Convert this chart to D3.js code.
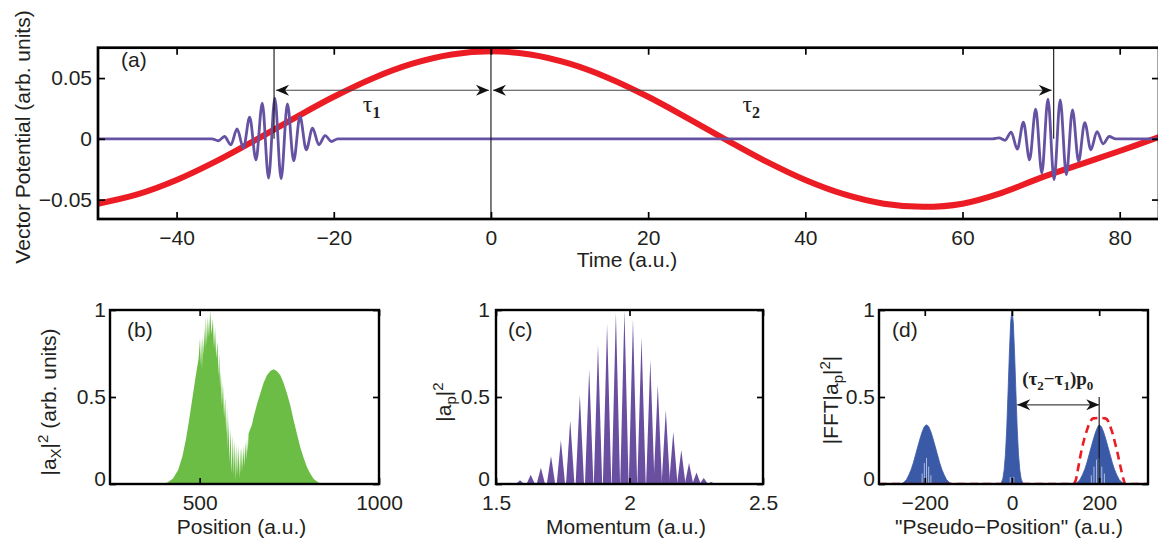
<!DOCTYPE html>
<html>
<head>
<meta charset="utf-8">
<title>Attosecond pulse pair figure</title>
<script src="https://cdn.jsdelivr.net/npm/d3@7/dist/d3.min.js"></script>
<style>
  html,body{margin:0;padding:0;background:#fff;}
  svg{display:block;}
</style>
</head>
<body>
<svg id="fig" width="1158" height="541"></svg>
<script>
// ================= DATA =================
// Panel (a): vector potential vs time
const timeTicks = [-40, -20, 0, 20, 40, 60, 80];
const potentialTicks = [-0.05, 0, 0.05];
const fieldTime  = [-50,-45,-40,-35,-30,-25,-20,-15,-10,-5,0,5,10,15,20,25,30,35,40,45,50,55,60,65,70,75,80,85];
const fieldValue = [-0.0534,-0.0458,-0.0339,-0.0186,-0.0011,0.0171,0.0346,0.0499,0.0618,0.0694,0.0720,0.0694,0.0618,0.0499,0.0346,0.0171,-0.0011,-0.0186,-0.0339,-0.0458,-0.0534,-0.0560,-0.0534,-0.0445,-0.0320,-0.0210,-0.0100,0.0015];
const pulse1Time  = [-50,-35.5,-34.7,-33.9,-33.1,-32.3,-31.5,-30.7,-29.9,-29.1,-28.3,-27.5,-26.7,-25.9,-25.1,-24.3,-23.5,-22.7,-21.9,-21.1,-20.3,-19.5];
const pulse1Value = [0,0,-0.0016,0.0019,-0.0049,0.0082,-0.0077,0.0178,-0.0173,0.0293,-0.0323,0.0334,-0.0329,0.0288,-0.0181,0.0184,-0.0090,0.0088,-0.0049,0.0027,-0.0022,0];
const pulse2Time  = [63.8,64.63,65.41,66.19,66.97,67.75,68.53,69.31,70.09,70.87,71.65,72.43,73.21,73.99,74.77,75.55,76.33,77.11,77.89,78.67,79.5,85];
const pulse2Value = [0,0.0008,-0.0012,0.0055,-0.0085,0.0137,-0.0173,0.0244,-0.0282,0.0326,-0.0337,0.0321,-0.0296,0.0238,-0.0186,0.0134,-0.0090,0.0060,-0.0041,0.0019,0,0];
const pulseCentres = [-27.6, 71.6];
const referenceTime = 0;
const delayArrowLevel = 0.04;
const tauLabelTime = [-16.3, 32.0];
const tauLabelLevel = 0.022;
const tauSubscripts = ["1", "2"];

// Panel (b): |a_x|^2 vs position
const positionTicks = [500, 1000];
const unitTicks = [0, 0.5, 1];
const positionB = [250,395,410,425,440,452,462,470,478,486,492,497,501,503,504.2,506.5,508.8,511,513,515,517.2,520,522.8,526,529.3,533,536.8,540,543,546,549.8,552,554.5,557,559.1,562,565,568,571.2,574,576.5,578.5,580.5,583,586,589,592.6,595,598,601,603.8,606,608.5,611,613.1,615,617.5,620,622,624.5,627,629.9,632,634,636.4,640,645.7,650.4,660,669,678,687.6,697,706.2,715,724.9,734,743.5,753,762.1,771,780.7,790,799.3,809,818,830,841,1000];
const densityB  = [0,0,0.008,0.03,0.08,0.16,0.26,0.36,0.47,0.58,0.66,0.72,0.84,0.68,0.83,0.66,0.85,0.74,0.90,0.78,0.96,0.80,0.96,0.84,1.0,0.86,0.95,0.78,0.90,0.72,0.82,0.62,0.75,0.55,0.65,0.45,0.58,0.38,0.50,0.28,0.44,0.20,0.375,0.12,0.32,0.06,0.28,0.05,0.25,0.02,0.23,0.05,0.22,0.03,0.21,0.06,0.21,0.08,0.22,0.10,0.24,0.14,0.26,0.18,0.29,0.31,0.34,0.385,0.46,0.52,0.58,0.625,0.65,0.66,0.65,0.625,0.58,0.52,0.45,0.365,0.29,0.21,0.15,0.096,0.058,0.029,0.01,0,0];

// Panel (c): |a_p|^2 vs momentum (comb peaks)
const momentumTicks = [1.5, 2, 2.5];
const momentumPeaks = [1.512,1.550,1.590,1.630,1.668,1.706,1.743,1.778,1.814,1.849,1.882,1.916,1.949,1.981,2.013,2.045,2.078,2.106,2.136,2.164,2.194,2.223,2.251,2.278,2.306,2.334,2.362];
const peakHeights   = [0.003,0.007,0.022,0.053,0.093,0.161,0.252,0.366,0.511,0.660,0.800,0.920,0.985,0.998,0.947,0.844,0.714,0.570,0.426,0.300,0.195,0.120,0.066,0.034,0.012,0.003,0.001];

// Panel (d): |FFT|a_p|^2| vs pseudo-position
const pseudoTicks = [-200, 0, 200];
const pseudoPos = [-305,-254,-248,-242,-236,-231,-226,-221,-216,-211,-206,-201,-196,-191,-186,-181,-176,-171,-166,-161,-156,-150,-144,-138,
                   -28,-24,-21,-18,-15,-12,-9,-6,-3,0,3,6,9,12,15,18,21,24,28,
                   144,150,156,162,167,172,177,182,187,192,197,200,205,210,215,220,225,230,235,240,246,252,258,312];
const fftValue  = [0,0,0.01,0.025,0.055,0.085,0.124,0.17,0.215,0.26,0.30,0.33,0.34,0.33,0.30,0.26,0.215,0.17,0.124,0.085,0.055,0.025,0.01,0,
                   0,0.01,0.03,0.08,0.17,0.32,0.53,0.75,0.93,1.0,0.93,0.75,0.53,0.32,0.17,0.08,0.03,0.01,0,
                   0,0.01,0.025,0.055,0.085,0.124,0.17,0.215,0.26,0.30,0.33,0.34,0.33,0.30,0.26,0.215,0.17,0.124,0.085,0.055,0.025,0.01,0,0];
const fringeGapPos = [-206,-201,-196,-191,-186,-4,4,182,188,194,200,206,212];
const fringeGapTop = [0.06,0.12,0.15,0.10,0.05,0.04,0.04,0.05,0.10,0.14,0.15,0.10,0.06];
const windowPos   = [-305,140,146,151,156,161,166,172,178,186,200,214,221,227,232,237,242,247,252,256,260,312];
const windowValue = [0,0,0.02,0.08,0.15,0.21,0.26,0.31,0.35,0.377,0.38,0.377,0.36,0.32,0.28,0.23,0.18,0.12,0.065,0.025,0,0];
const shiftArrowFrom = 12, shiftArrowTo = 200, shiftArrowLevel = 0.455;
const markerLineTop = 0.5;
const shiftLabelPos = 105, shiftLabelLevel = 0.57;

// ================= STYLE =================
const INK = '#231f20';
const SANS = '"Liberation Sans", Arial, Helvetica, sans-serif';
const SERIF = '"Liberation Serif", "Times New Roman", Times, serif';
const RED = '#ec1c24', PURPLE_A = '#6652a2', GREEN = '#6cbd45', PURPLE_C = '#6a4fa1', BLUE = '#3a59a7';
const FS = 21;
const BOTTOM_TITLE_Y = 534;

const svg = d3.select('#fig').attr('font-family', SANS);
const defs = svg.append('defs');
defs.append('marker').attr('id','head')
  .attr('viewBox','-14 -7 15 14').attr('refX',0).attr('refY',0)
  .attr('markerWidth',15).attr('markerHeight',14).attr('markerUnits','userSpaceOnUse')
  .attr('orient','auto-start-reverse')
  .append('path').attr('d','M0,0 L-13,-5.5 L-9,0 L-13,5.5 Z').attr('fill','#111');

let clipId = 0;
function clipFor(x, y) {
  const id = 'clip' + (clipId++);
  const [xa, xb] = x.range(), [yb, ya] = y.range();
  defs.append('clipPath').attr('id', id).append('rect')
    .attr('x', xa).attr('y', ya).attr('width', xb - xa).attr('height', yb - ya);
  return `url(#${id})`;
}

const fmt = d => String(d).replace('-', '\u2212');
function framed(g, x, y, xt, yt, o) {
  const [xa, xb] = x.range(), [yb, ya] = y.range();
  const t = o.tick;
  const axes = [
    g.append('g').attr('transform', `translate(0,${yb})`).call(d3.axisBottom(x).tickValues(xt).tickSize(-t).tickPadding(o.xpad).tickFormat(fmt)),
    g.append('g').attr('transform', `translate(0,${ya})`).call(d3.axisTop(x).tickValues(xt).tickSize(-t).tickFormat('')),
    g.append('g').attr('class', 'yleft').attr('transform', `translate(${xa},0)`).call(d3.axisLeft(y).tickValues(yt).tickSize(-t).tickPadding(o.ypad).tickFormat(fmt)),
    g.append('g').attr('transform', `translate(${xb},0)`).call(d3.axisRight(y).tickValues(yt).tickSize(-t).tickFormat(''))
  ];
  axes.forEach(a => {
    a.select('.domain').remove();
    a.attr('font-family', SANS).attr('font-size', FS);
    a.selectAll('line').attr('stroke', '#000').attr('stroke-width', 1.7);
    a.selectAll('text').attr('fill', INK);
  });
  if (o.zeroLift) {
    axes[2].selectAll('.tick').filter(d => d === 0).select('text').attr('y', -o.zeroLift);
  }
  g.append('rect').attr('x', xa).attr('y', ya).attr('width', xb - xa).attr('height', yb - ya)
    .attr('fill', 'none').attr('stroke', '#000').attr('stroke-width', o.frame);
}

function panelLabel(g, text, x, y) {
  g.append('text').attr('x', x).attr('y', y).attr('font-size', FS).attr('fill', INK).text(text);
}

// ================= PANEL (a) =================
const xA = d3.scaleLinear([-50, 85], [98, 1159]);
const yA = d3.scaleLinear([-0.066, 0.075], [219, 47.7]);
const gA = svg.append('g');
const cA = clipFor(xA, yA);

gA.append('path').datum(d3.zip(fieldTime, fieldValue))
  .attr('d', d3.line().x(d => xA(d[0])).y(d => yA(d[1])).curve(d3.curveCatmullRom)).attr('fill', 'none')
  .attr('stroke', RED).attr('stroke-width', 6).attr('clip-path', cA);

gA.append('path').datum(d3.zip(pulse1Time, pulse1Value).concat(d3.zip(pulse2Time, pulse2Value)))
  .attr('d', d3.line().x(d => xA(d[0])).y(d => yA(d[1])).curve(d3.curveMonotoneX))
  .attr('fill', 'none').attr('stroke', PURPLE_A).attr('stroke-width', 2.8)
  .attr('stroke-linejoin', 'round').attr('clip-path', cA);

// vertical markers
gA.selectAll('line.pulse').data(pulseCentres).join('line')
  .attr('x1', d => xA(d)).attr('x2', d => xA(d))
  .attr('y1', yA(0)).attr('y2', yA.range()[1])
  .attr('stroke', '#111').attr('stroke-width', 1.1);
gA.append('line').attr('x1', xA(referenceTime)).attr('x2', xA(referenceTime))
  .attr('y1', yA.range()[0]).attr('y2', yA.range()[1]).attr('stroke', '#111').attr('stroke-width', 1.1);

// delay arrows
[[pulseCentres[0], referenceTime], [referenceTime, pulseCentres[1]]].forEach(([a, b]) => {
  gA.append('line')
    .attr('x1', xA(a) + 2).attr('x2', xA(b) - 2)
    .attr('y1', yA(delayArrowLevel)).attr('y2', yA(delayArrowLevel))
    .attr('stroke', '#444').attr('stroke-width', 1.1)
    .attr('marker-start', 'url(#head)').attr('marker-end', 'url(#head)');
});

// tau labels
tauLabelTime.forEach((t, i) => {
  const txt = gA.append('text').attr('x', xA(t)).attr('y', yA(tauLabelLevel))
    .attr('font-family', SERIF).attr('fill', INK);
  txt.append('tspan').attr('font-size', 24).text('\u03C4');
  txt.append('tspan').attr('font-size', 16).attr('font-weight', 'bold').attr('dy', 6).text(tauSubscripts[i]);
});

framed(gA, xA, yA, timeTicks, potentialTicks, {tick: 7, xpad: 11, ypad: 6, frame: 2.7});
panelLabel(gA, '(a)', 121, 67);
gA.append('text').attr('x', 627).attr('y', 267).attr('text-anchor', 'middle')
  .attr('font-size', FS).attr('fill', INK).text('Time (a.u.)');
gA.append('text').attr('transform', 'translate(30,137) rotate(-90)').attr('text-anchor', 'middle')
  .attr('font-size', FS).attr('fill', INK).text('Vector Potential (arb. units)');

// ================= PANEL (b) =================
const xB = d3.scaleLinear([250, 1000], [110, 379]);
const yB = d3.scaleLinear([0, 1], [484, 310]);
const gB = svg.append('g');
const cB = clipFor(xB, yB);
gB.append('path').datum(d3.zip(positionB, densityB))
  .attr('d', d3.area().x(d => xB(d[0])).y0(yB(0)).y1(d => yB(d[1])))
  .attr('fill', GREEN).attr('clip-path', cB);
gB.append('line').attr('x1', xB.range()[0]).attr('x2', xB.range()[1]).attr('y1', yB(0)).attr('y2', yB(0))
  .attr('stroke', GREEN).attr('stroke-width', 1.5);
framed(gB, xB, yB, positionTicks, unitTicks, {tick: 6, xpad: 11, ypad: 4, frame: 2.4, zeroLift: 5});
panelLabel(gB, '(b)', 127, 337);
gB.append('text').attr('x', 241.5).attr('y', BOTTOM_TITLE_Y).attr('text-anchor', 'middle')
  .attr('font-size', FS).attr('fill', INK).text('Position (a.u.)');
{
  const t = gB.append('text').attr('transform', 'translate(56,402) rotate(-90)').attr('text-anchor', 'middle')
    .attr('font-size', FS).attr('fill', INK);
  t.append('tspan').text('|a');
  t.append('tspan').attr('font-size', 15).attr('dy', 5).text('X');
  t.append('tspan').attr('dy', -5).text('|');
  t.append('tspan').attr('font-size', 15).attr('dy', -8).text('2');
  t.append('tspan').attr('dy', 8).text(' (arb. units)');
}

// ================= PANEL (c) =================
const xC = d3.scaleLinear([1.5, 2.5], [496, 763]);
const yC = d3.scaleLinear([0, 1], [484, 310]);
const gC = svg.append('g');
const cC = clipFor(xC, yC);
const halfW = 4.2;
gC.selectAll('path.spike').data(d3.zip(momentumPeaks, peakHeights)).join('path')
  .attr('d', d => d3.area().x(p => p[0]).y0(yC(0)).y1(p => p[1])([
      [xC(d[0]) - halfW, yC(0)], [xC(d[0]), yC(d[1])], [xC(d[0]) + halfW, yC(0)]]))
  .attr('fill', PURPLE_C).attr('clip-path', cC);
gC.append('line').attr('x1', xC.range()[0]).attr('x2', xC.range()[1]).attr('y1', yC(0)).attr('y2', yC(0))
  .attr('stroke', PURPLE_C).attr('stroke-width', 1.2);
framed(gC, xC, yC, momentumTicks, unitTicks, {tick: 6, xpad: 11, ypad: 6, frame: 2.4, zeroLift: 5});
panelLabel(gC, '(c)', 508, 337);
gC.append('text').attr('x', 626).attr('y', BOTTOM_TITLE_Y).attr('text-anchor', 'middle')
  .attr('font-size', FS).attr('fill', INK).text('Momentum (a.u.)');
{
  const t = gC.append('text').attr('transform', 'translate(451,402) rotate(-90)').attr('text-anchor', 'middle')
    .attr('font-size', FS).attr('fill', INK);
  t.append('tspan').text('|a');
  t.append('tspan').attr('font-size', 15).attr('dy', 5).text('p');
  t.append('tspan').attr('dy', -5).text('|');
  t.append('tspan').attr('font-size', 15).attr('dy', -8).text('2');
}

// ================= PANEL (d) =================
const xD = d3.scaleLinear([-305, 312], [879, 1148]);
const yD = d3.scaleLinear([0, 1], [484, 310]);
const gD = svg.append('g');
const cD = clipFor(xD, yD);
gD.append('path').datum(d3.zip(pseudoPos, fftValue))
  .attr('d', d3.area().x(d => xD(d[0])).y0(yD(0)).y1(d => yD(d[1])))
  .attr('fill', BLUE).attr('stroke', BLUE).attr('stroke-width', 0.8).attr('clip-path', cD);
gD.selectAll('line.gap').data(d3.zip(fringeGapPos, fringeGapTop)).join('line')
  .attr('x1', d => xD(d[0])).attr('x2', d => xD(d[0]))
  .attr('y1', yD(0)).attr('y2', d => yD(d[1]))
  .attr('stroke', '#fff').attr('stroke-width', 0.7).attr('stroke-opacity', 0.85);
gD.append('line').attr('x1', xD.range()[0]).attr('x2', xD.range()[1]).attr('y1', yD(0)).attr('y2', yD(0))
  .attr('stroke', BLUE).attr('stroke-width', 1.5);
gD.append('path').datum(d3.zip(windowPos, windowValue))
  .attr('d', d3.line().x(d => xD(d[0])).y(d => yD(d[1])).curve(d3.curveMonotoneX))
  .attr('fill', 'none').attr('stroke', RED).attr('stroke-width', 2.6)
  .attr('stroke-dasharray', '8,5').attr('clip-path', cD);
gD.append('line').attr('x1', xD(shiftArrowTo)).attr('x2', xD(shiftArrowTo))
  .attr('y1', yD(0)).attr('y2', yD(markerLineTop)).attr('stroke', '#111').attr('stroke-width', 1.1);
gD.append('line').attr('x1', xD(shiftArrowFrom)).attr('x2', xD(shiftArrowTo))
  .attr('y1', yD(shiftArrowLevel)).attr('y2', yD(shiftArrowLevel))
  .attr('stroke', '#444').attr('stroke-width', 1.1)
  .attr('marker-start', 'url(#head)').attr('marker-end', 'url(#head)');
{
  const t = gD.append('text').attr('x', xD(shiftLabelPos)).attr('y', yD(shiftLabelLevel))
    .attr('text-anchor', 'middle').attr('font-family', SERIF).attr('font-weight', 'bold')
    .attr('font-size', 19).attr('fill', INK);
  t.append('tspan').text('(\u03C4');
  t.append('tspan').attr('font-size', 13).attr('dy', 5).text('2');
  t.append('tspan').attr('dy', -5).text('\u2212\u03C4');
  t.append('tspan').attr('font-size', 13).attr('dy', 5).text('1');
  t.append('tspan').attr('dy', -5).text(')p');
  t.append('tspan').attr('font-size', 13).attr('dy', 5).text('0');
}
framed(gD, xD, yD, pseudoTicks, unitTicks, {tick: 6, xpad: 11, ypad: 4, frame: 2.4, zeroLift: 5});
panelLabel(gD, '(d)', 892, 337);
gD.append('text').attr('x', 1009).attr('y', BOTTOM_TITLE_Y).attr('text-anchor', 'middle')
  .attr('font-size', FS).attr('fill', INK).text('"Pseudo\u2212Position" (a.u.)');
{
  const t = gD.append('text').attr('transform', 'translate(838,400) rotate(-90)').attr('text-anchor', 'middle')
    .attr('font-size', FS).attr('fill', INK);
  t.append('tspan').text('|FFT|a');
  t.append('tspan').attr('font-size', 15).attr('dy', 5).text('p');
  t.append('tspan').attr('dy', -5).text('|');
  t.append('tspan').attr('font-size', 15).attr('dy', -8).text('2');
  t.append('tspan').attr('dy', 8).text('|');
}
</script>
</body>
</html>
